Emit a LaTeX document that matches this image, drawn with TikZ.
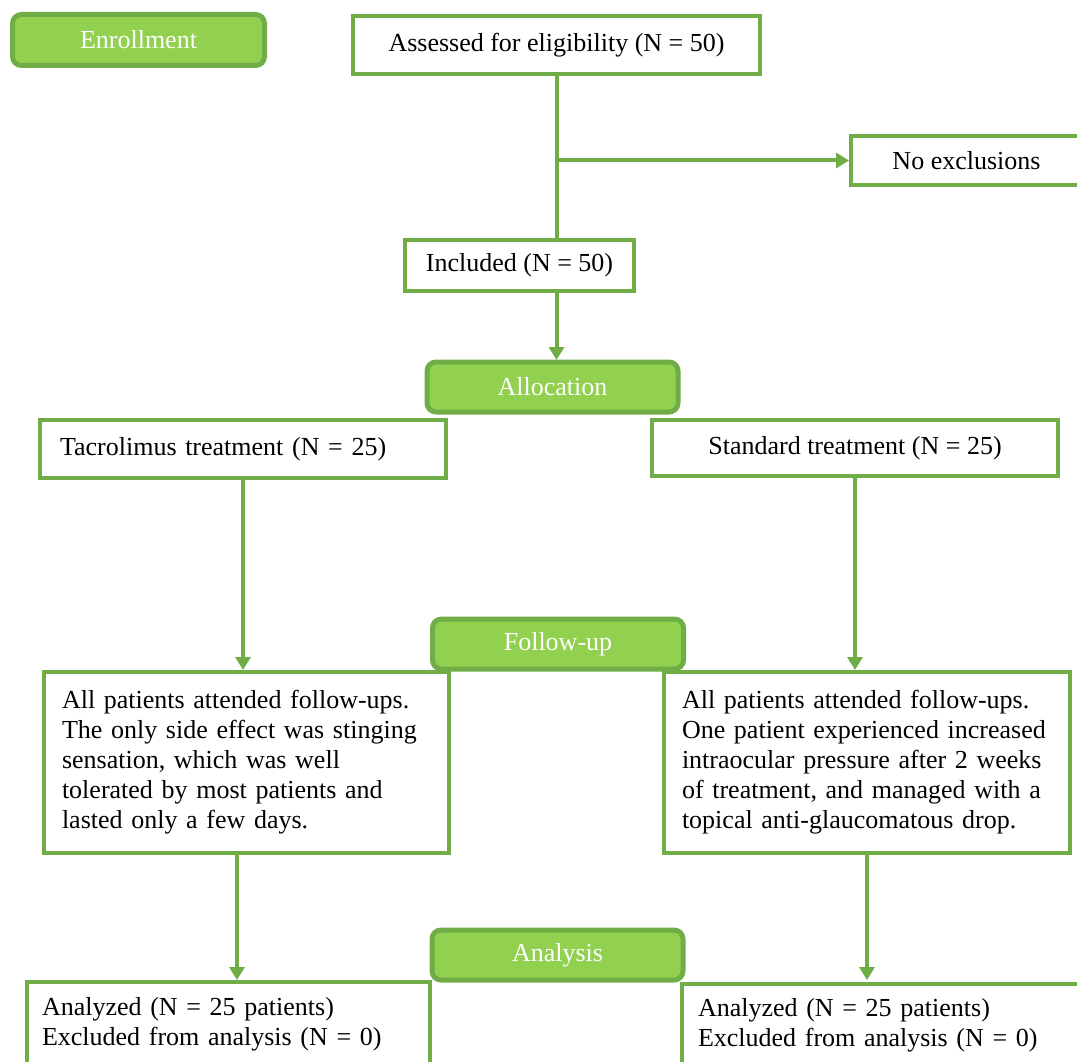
\documentclass[tikz,border=0pt]{standalone}
\usepackage{fontspec}
\setmainfont{Liberation Serif}
\usetikzlibrary{arrows.meta,calc}
\definecolor{gborder}{HTML}{70AD47}
\definecolor{gfill}{HTML}{92D050}
\tikzset{
  wbox/.style={draw=gborder, line width=4pt, fill=white, rectangle, inner ysep=0pt,
    font=\fontsize{26}{30}\selectfont},
  gbox/.style={draw=gborder, line width=5pt, fill=gfill, rectangle, rounded corners=9pt,
    text=white, font=\fontsize{26}{30}\selectfont, minimum width=251pt, minimum height=50pt},
  conn/.style={draw=gborder, line width=4pt},
  arr/.style={conn, -{Triangle[width=15pt,length=13pt]}},
}
\begin{document}
\begin{tikzpicture}[x=1pt,y=-1pt]
\clip (0,0) rectangle (1077,1062);
\fill[white] (0,0) rectangle (1077,1062);

% white boxes
\node[wbox, minimum width=407pt, minimum height=58pt] (assess) at (556.5,45) {Assessed for eligibility (N = 50)};
\node[wbox, minimum width=231pt, minimum height=49pt] (noexcl) at (966.5,160.5) {No exclusions};
\node[wbox, minimum width=229pt, minimum height=51pt] (incl) at (519.5,265.5) {Included (N = 50)};
\node[wbox, minimum width=406pt, minimum height=58pt, text width=366pt, align=left, inner xsep=20pt] (tacro) at (243,449) {Tacrolimus treatment (N = 25)};
\node[wbox, minimum width=406pt, minimum height=56pt] (std) at (855,448) {Standard treatment (N = 25)};
\node[wbox, minimum width=405pt, minimum height=181pt, text width=369pt, align=left, inner xsep=18pt] (fl) at (246.5,762.5) {All patients attended follow-ups.\\The only side effect was stinging\\sensation, which was well\\tolerated by most patients and\\lasted only a few days.};
\node[wbox, minimum width=406pt, minimum height=181pt, text width=370pt, align=left, inner xsep=18pt] (fr) at (867,762.5) {All patients attended follow-ups.\\One patient experienced increased\\intraocular pressure after 2 weeks\\of treatment, and managed with a\\topical anti-glaucomatous drop.};
\node[wbox, minimum width=403pt, minimum height=84pt, text width=373pt, align=left, inner xsep=15pt] (al) at (228.5,1024) {Analyzed (N = 25 patients)\\Excluded from analysis (N = 0)};
\node[wbox, minimum width=420pt, minimum height=82pt, text width=388pt, align=left, inner xsep=16pt] (ar) at (892,1025) {Analyzed (N = 25 patients)\\Excluded from analysis (N = 0)};

% connectors
\draw[conn] (assess.south) -- (assess.south |- incl.north);
\coordinate (br) at (assess.south |- noexcl.west);
\draw[arr] (br) -- (noexcl.west);
\draw[arr] (assess.south |- incl.south) -- (assess.south |- 0,360);
\draw[arr] (tacro.south) -- (tacro.south |- fl.north);
\draw[arr] (std.south) -- (std.south |- fr.north);
\draw[arr] ([xshift=-9.5pt]fl.south) -- ([xshift=-9.5pt]fl.south |- 0,980);
\draw[arr] (fr.south) -- (fr.south |- 0,980);

% green stage boxes
\node[gbox, minimum width=252pt, minimum height=51pt] (enroll) at (138.5,40) {Enrollment};
\node[gbox] (alloc) at (552.5,387) {Allocation};
\node[gbox] (follow) at (558,644) {Follow-up};
\node[gbox] (analysis) at (557.5,955) {Analysis};
\end{tikzpicture}
\end{document}
